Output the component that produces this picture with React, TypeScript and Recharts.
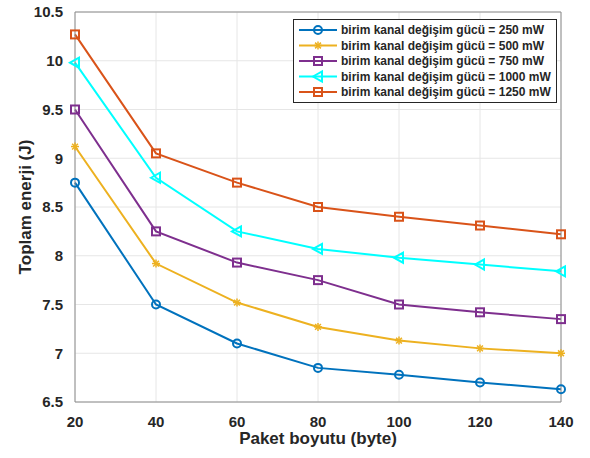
import { LineChart, Line, XAxis, YAxis, CartesianGrid } from 'recharts'

const packetSizes = [20, 40, 60, 80, 100, 120, 140]
const p250 = [8.75, 7.5, 7.1, 6.85, 6.78, 6.7, 6.63]
const p500 = [9.12, 7.92, 7.52, 7.27, 7.13, 7.05, 7.0]
const p750 = [9.5, 8.25, 7.93, 7.75, 7.5, 7.42, 7.35]
const p1000 = [9.98, 8.8, 8.25, 8.07, 7.98, 7.91, 7.84]
const p1250 = [10.27, 9.05, 8.75, 8.5, 8.4, 8.31, 8.22]
const xTicks = [20, 40, 60, 80, 100, 120, 140]
const yTicks = [6.5, 7, 7.5, 8, 8.5, 9, 9.5, 10, 10.5]

type MarkerKind = 'circle' | 'star' | 'square' | 'triangleLeft'

const series: { key: string; label: string; color: string; marker: MarkerKind; values: number[] }[] = [
  { key: 'p250', label: 'birim kanal değişim gücü = 250 mW', color: '#0072BD', marker: 'circle', values: p250 },
  { key: 'p500', label: 'birim kanal değişim gücü = 500 mW', color: '#EDB120', marker: 'star', values: p500 },
  { key: 'p750', label: 'birim kanal değişim gücü = 750 mW', color: '#7E2F8E', marker: 'square', values: p750 },
  { key: 'p1000', label: 'birim kanal değişim gücü = 1000 mW', color: '#00FFFF', marker: 'triangleLeft', values: p1000 },
  { key: 'p1250', label: 'birim kanal değişim gücü = 1250 mW', color: '#D95319', marker: 'square', values: p1250 },
]

const chartData = packetSizes.map((x, i) => {
  const row: Record<string, number> = { x }
  series.forEach(s => { row[s.key] = s.values[i] })
  return row
})

const FONT = 'Arial, "Liberation Sans", Helvetica, sans-serif'
const TEXT = '#262626'
const AXIS = '#8c8c8c'

function Marker({ cx, cy, kind, color }: { cx: number; cy: number; kind: MarkerKind; color: string }) {
  const r = 4
  if (kind === 'circle') {
    return <circle cx={cx} cy={cy} r={r} fill="none" stroke={color} strokeWidth={2} />
  }
  if (kind === 'square') {
    return <rect x={cx - r} y={cy - r} width={r * 2} height={r * 2} fill="none" stroke={color} strokeWidth={2} />
  }
  if (kind === 'triangleLeft') {
    const pts = `${cx - r - 1},${cy} ${cx + r},${cy - r - 1} ${cx + r},${cy + r + 1}`
    return <polygon points={pts} fill="none" stroke={color} strokeWidth={2} />
  }
  const d = r * 0.72
  return (
    <g stroke={color} strokeWidth={1.5}>
      <line x1={cx - r} y1={cy} x2={cx + r} y2={cy} />
      <line x1={cx} y1={cy - r} x2={cx} y2={cy + r} />
      <line x1={cx - d} y1={cy - d} x2={cx + d} y2={cy + d} />
      <line x1={cx - d} y1={cy + d} x2={cx + d} y2={cy - d} />
    </g>
  )
}

function LegendBox() {
  const rowH = 15.5
  return (
    <svg width={264} height={84} style={{ position: 'absolute', left: 293, top: 19 }}>
      <rect x={0.5} y={0.5} width={263} height={83} fill="#fff" stroke="#262626" strokeWidth={1} />
      {series.map((s, i) => {
        const y = 11 + i * rowH
        return (
          <g key={s.key}>
            <line x1={6} y1={y} x2={44} y2={y} stroke={s.color} strokeWidth={2} />
            <Marker cx={25} cy={y} kind={s.marker} color={s.color} />
            <text x={48} y={y + 4} fontSize={12} fontWeight="bold" fill={TEXT} fontFamily={FONT}>
              {s.label}
            </text>
          </g>
        )
      })}
    </svg>
  )
}

export default function App() {
  return (
    <div style={{ position: 'absolute', left: 0, top: 0, width: 590, height: 458, background: '#fff' }}>
      <LineChart
        width={590}
        height={458}
        data={chartData}
        margin={{ top: 11, right: 28, bottom: 26, left: 20 }}
      >
        <CartesianGrid stroke="#e6e6e6" strokeWidth={1} />
        <XAxis
          dataKey="x"
          type="number"
          domain={[20, 140]}
          ticks={xTicks}
          stroke={AXIS}
          tickLine={false}
          height={30}
          tick={{ fontSize: 15, fontWeight: 'bold', fill: TEXT, fontFamily: FONT }}
          tickMargin={8}
          label={{
            value: 'Paket boyutu (byte)',
            position: 'bottom',
            offset: 0,
            style: { fontSize: 17, fontWeight: 'bold', fill: TEXT, fontFamily: FONT },
          }}
        />
        <XAxis
          xAxisId="top"
          dataKey="x"
          type="number"
          domain={[20, 140]}
          orientation="top"
          stroke={AXIS}
          tick={false}
          tickLine={false}
          height={1}
        />
        <YAxis
          type="number"
          domain={[6.5, 10.5]}
          ticks={yTicks}
          stroke={AXIS}
          tickLine={false}
          width={55}
          tick={{ fontSize: 15, fontWeight: 'bold', fill: TEXT, fontFamily: FONT }}
          tickMargin={6}
          label={{
            value: 'Toplam enerji (J)',
            angle: -90,
            position: 'insideLeft',
            offset: 5,
            style: { fontSize: 17, fontWeight: 'bold', fill: TEXT, fontFamily: FONT, textAnchor: 'middle' },
          }}
        />
        <YAxis
          yAxisId="right"
          orientation="right"
          domain={[6.5, 10.5]}
          stroke={AXIS}
          tick={false}
          tickLine={false}
          width={1}
        />
        {series.map(s => (
          <Line
            key={s.key}
            dataKey={s.key}
            stroke={s.color}
            strokeWidth={2}
            isAnimationActive={false}
            dot={(props: any) => (
              <Marker key={`${s.key}-${props.index}`} cx={props.cx} cy={props.cy} kind={s.marker} color={s.color} />
            )}
            activeDot={false}
          />
        ))}
      </LineChart>
      <LegendBox />
    </div>
  )
}
